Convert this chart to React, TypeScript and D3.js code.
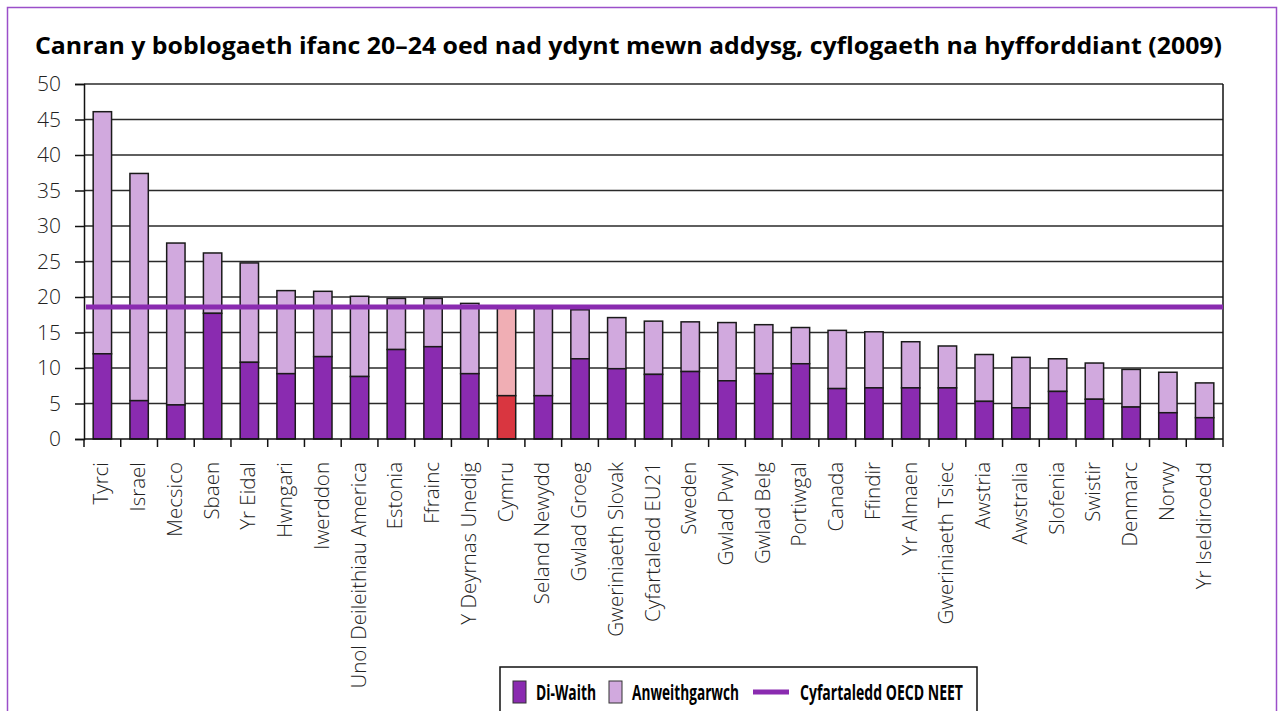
import * as d3 from 'd3'
import { useEffect, useRef } from 'react'

// data
const countries = [
  'Tyrci', 'Israel', 'Mecsico', 'Sbaen', 'Yr Eidal', 'Hwngari', 'Iwerddon',
  'Unol Deileithiau America', 'Estonia', 'Ffrainc', 'Y Deyrnas Unedig', 'Cymru',
  'Seland Newydd', 'Gwlad Groeg', 'Gweriniaeth Slovak', 'Cyfartaledd EU21', 'Sweden',
  'Gwlad Pwyl', 'Gwlad Belg', 'Portiwgal', 'Canada', 'Ffindir', 'Yr Almaen',
  'Gweriniaeth Tsiec', 'Awstria', 'Awstralia', 'Slofenia', 'Swistir', 'Denmarc',
  'Norwy', 'Yr Iseldiroedd'
]
// Di-Waith (unemployed)
const unemployed = [
  12.0, 5.4, 4.8, 17.7, 10.8, 9.2, 11.6, 8.8, 12.6, 13.0, 9.2, 6.1,
  6.1, 11.3, 9.9, 9.1, 9.5, 8.2, 9.2, 10.6, 7.1, 7.2, 7.2,
  7.2, 5.3, 4.4, 6.7, 5.6, 4.5, 3.7, 3.0
]
// total NEET (Di-Waith + Anweithgarwch)
const totals = [
  46.1, 37.4, 27.6, 26.2, 24.8, 20.9, 20.8, 20.1, 19.8, 19.8, 19.1, 18.5,
  18.4, 18.2, 17.1, 16.6, 16.5, 16.4, 16.1, 15.7, 15.3, 15.1, 13.7,
  13.1, 11.9, 11.5, 11.3, 10.7, 9.8, 9.4, 7.9
]
const oecdAverage = 18.6
const yTicks = [0, 5, 10, 15, 20, 25, 30, 35, 40, 45, 50]
const highlight = 'Cymru'

const title = 'Canran y boblogaeth ifanc 20–24 oed nad ydynt mewn addysg, cyflogaeth na hyfforddiant (2009)'

const width = 1278
const height = 711
const purple = '#8a2bb0'
const lilac = '#d1a9de'
const font = '"Open Sans", "Noto Sans", sans-serif'

export default function App () {
  const svgRef = useRef<SVGSVGElement>(null)

  useEffect(() => {
    const svg = d3.select(svgRef.current)
    svg.selectAll('*').remove()

    const left = 84, right = 1223, top = 84, bottom = 439

    const x = d3.scaleBand<string>().domain(countries).range([left, right]).paddingInner(0.5).paddingOuter(0.25)
    const y = d3.scaleLinear().domain([0, 50]).range([bottom, top])

    const rows = countries.map((c, i) => ({ name: c, dw: unemployed[i], total: totals[i] }))

    // outer frame
    svg.append('rect')
      .attr('x', 7.5).attr('y', 7.5).attr('width', 1269).attr('height', 720)
      .attr('fill', 'white').attr('stroke', '#9b4fc9').attr('stroke-width', 1.5)

    svg.append('text')
      .attr('x', 35).attr('y', 54)
      .attr('font-family', font).attr('font-weight', 700).attr('font-size', 24)
      .attr('textLength', 1187).attr('lengthAdjust', 'spacingAndGlyphs')
      .text(title)

    // grid
    svg.append('g').selectAll('line')
      .data(yTicks.filter(t => t > 0))
      .join('line')
      .attr('x1', left).attr('x2', right)
      .attr('y1', d => y(d)).attr('y2', d => y(d))
      .attr('stroke', '#2a2a2a').attr('stroke-width', 1.5)

    // y axis
    const yAxis = svg.append('g')
      .attr('transform', `translate(${left},0)`)
      .call(d3.axisLeft(y).tickValues(yTicks).tickSize(9).tickPadding(14))
    yAxis.select('.domain').attr('stroke', '#111').attr('stroke-width', 1.5)
    yAxis.selectAll('.tick line').attr('stroke', '#111').attr('stroke-width', 1.5)
    yAxis.selectAll('.tick text')
      .attr('font-family', font).attr('font-weight', 300).attr('font-size', 21).attr('fill', '#222')

    // right edge
    svg.append('line')
      .attr('x1', right).attr('x2', right).attr('y1', top).attr('y2', bottom)
      .attr('stroke', '#111').attr('stroke-width', 1.5)

    // stacked bars
    const bars = svg.append('g')
    bars.selectAll('rect.inactive')
      .data(rows)
      .join('rect')
      .attr('class', 'inactive')
      .attr('x', d => x(d.name)!)
      .attr('width', x.bandwidth())
      .attr('y', d => y(d.total))
      .attr('height', d => y(d.dw) - y(d.total))
      .attr('fill', d => d.name === highlight ? '#f0aeb4' : lilac)
      .attr('stroke', '#1a1a1a').attr('stroke-width', 1.5)
    bars.selectAll('rect.unemp')
      .data(rows)
      .join('rect')
      .attr('class', 'unemp')
      .attr('x', d => x(d.name)!)
      .attr('width', x.bandwidth())
      .attr('y', d => y(d.dw))
      .attr('height', d => bottom - y(d.dw))
      .attr('fill', d => d.name === highlight ? '#d93640' : purple)
      .attr('stroke', '#1a1a1a').attr('stroke-width', 1.5)

    // x axis with ticks between categories
    const step = x.step()
    svg.append('line')
      .attr('x1', left).attr('x2', right).attr('y1', bottom).attr('y2', bottom)
      .attr('stroke', '#111').attr('stroke-width', 1.5)
    svg.append('g').selectAll('line')
      .data(d3.range(countries.length + 1))
      .join('line')
      .attr('x1', i => left + i * step).attr('x2', i => left + i * step)
      .attr('y1', bottom).attr('y2', bottom + 8)
      .attr('stroke', '#111').attr('stroke-width', 1.5)

    svg.append('g').selectAll('text')
      .data(countries)
      .join('text')
      .attr('transform', d => `translate(${x(d)! + x.bandwidth() / 2 + 6},462) rotate(-90)`)
      .attr('text-anchor', 'end')
      .attr('font-family', font).attr('font-weight', 300).attr('font-size', 20.5).attr('fill', '#222')
      .text(d => d)

    // OECD average line
    svg.append('line')
      .attr('x1', left + 2).attr('x2', right)
      .attr('y1', y(oecdAverage)).attr('y2', y(oecdAverage))
      .attr('stroke', purple).attr('stroke-width', 5)

    // legend
    const lg = svg.append('g')
    lg.append('rect')
      .attr('x', 500).attr('y', 667).attr('width', 477).attr('height', 60)
      .attr('fill', 'white').attr('stroke', '#111').attr('stroke-width', 1.5)
    const items = [
      { label: 'Di-Waith', color: purple, x: 513, tx: 536, len: 60 },
      { label: 'Anweithgarwch', color: lilac, x: 609, tx: 632, len: 107 }
    ]
    lg.selectAll('rect.key')
      .data(items)
      .join('rect')
      .attr('class', 'key')
      .attr('x', d => d.x).attr('y', 681).attr('width', 13).attr('height', 22)
      .attr('fill', d => d.color).attr('stroke', '#333').attr('stroke-width', 1)
    lg.append('line')
      .attr('x1', 753).attr('x2', 789).attr('y1', 692).attr('y2', 692)
      .attr('stroke', purple).attr('stroke-width', 5)
    const labels = [...items.map(d => ({ label: d.label, tx: d.tx, len: d.len })), { label: 'Cyfartaledd OECD NEET', tx: 800, len: 163 }]
    lg.selectAll('text')
      .data(labels)
      .join('text')
      .attr('x', d => d.tx).attr('y', 700)
      .attr('font-family', font).attr('font-weight', 700).attr('font-size', 21)
      .attr('textLength', d => d.len).attr('lengthAdjust', 'spacingAndGlyphs')
      .text(d => d.label)
  }, [])

  return (
    <svg ref={svgRef} width={width} height={height}
      style={{ position: 'absolute', left: 0, top: 0, background: 'white' }} />
  )
}
